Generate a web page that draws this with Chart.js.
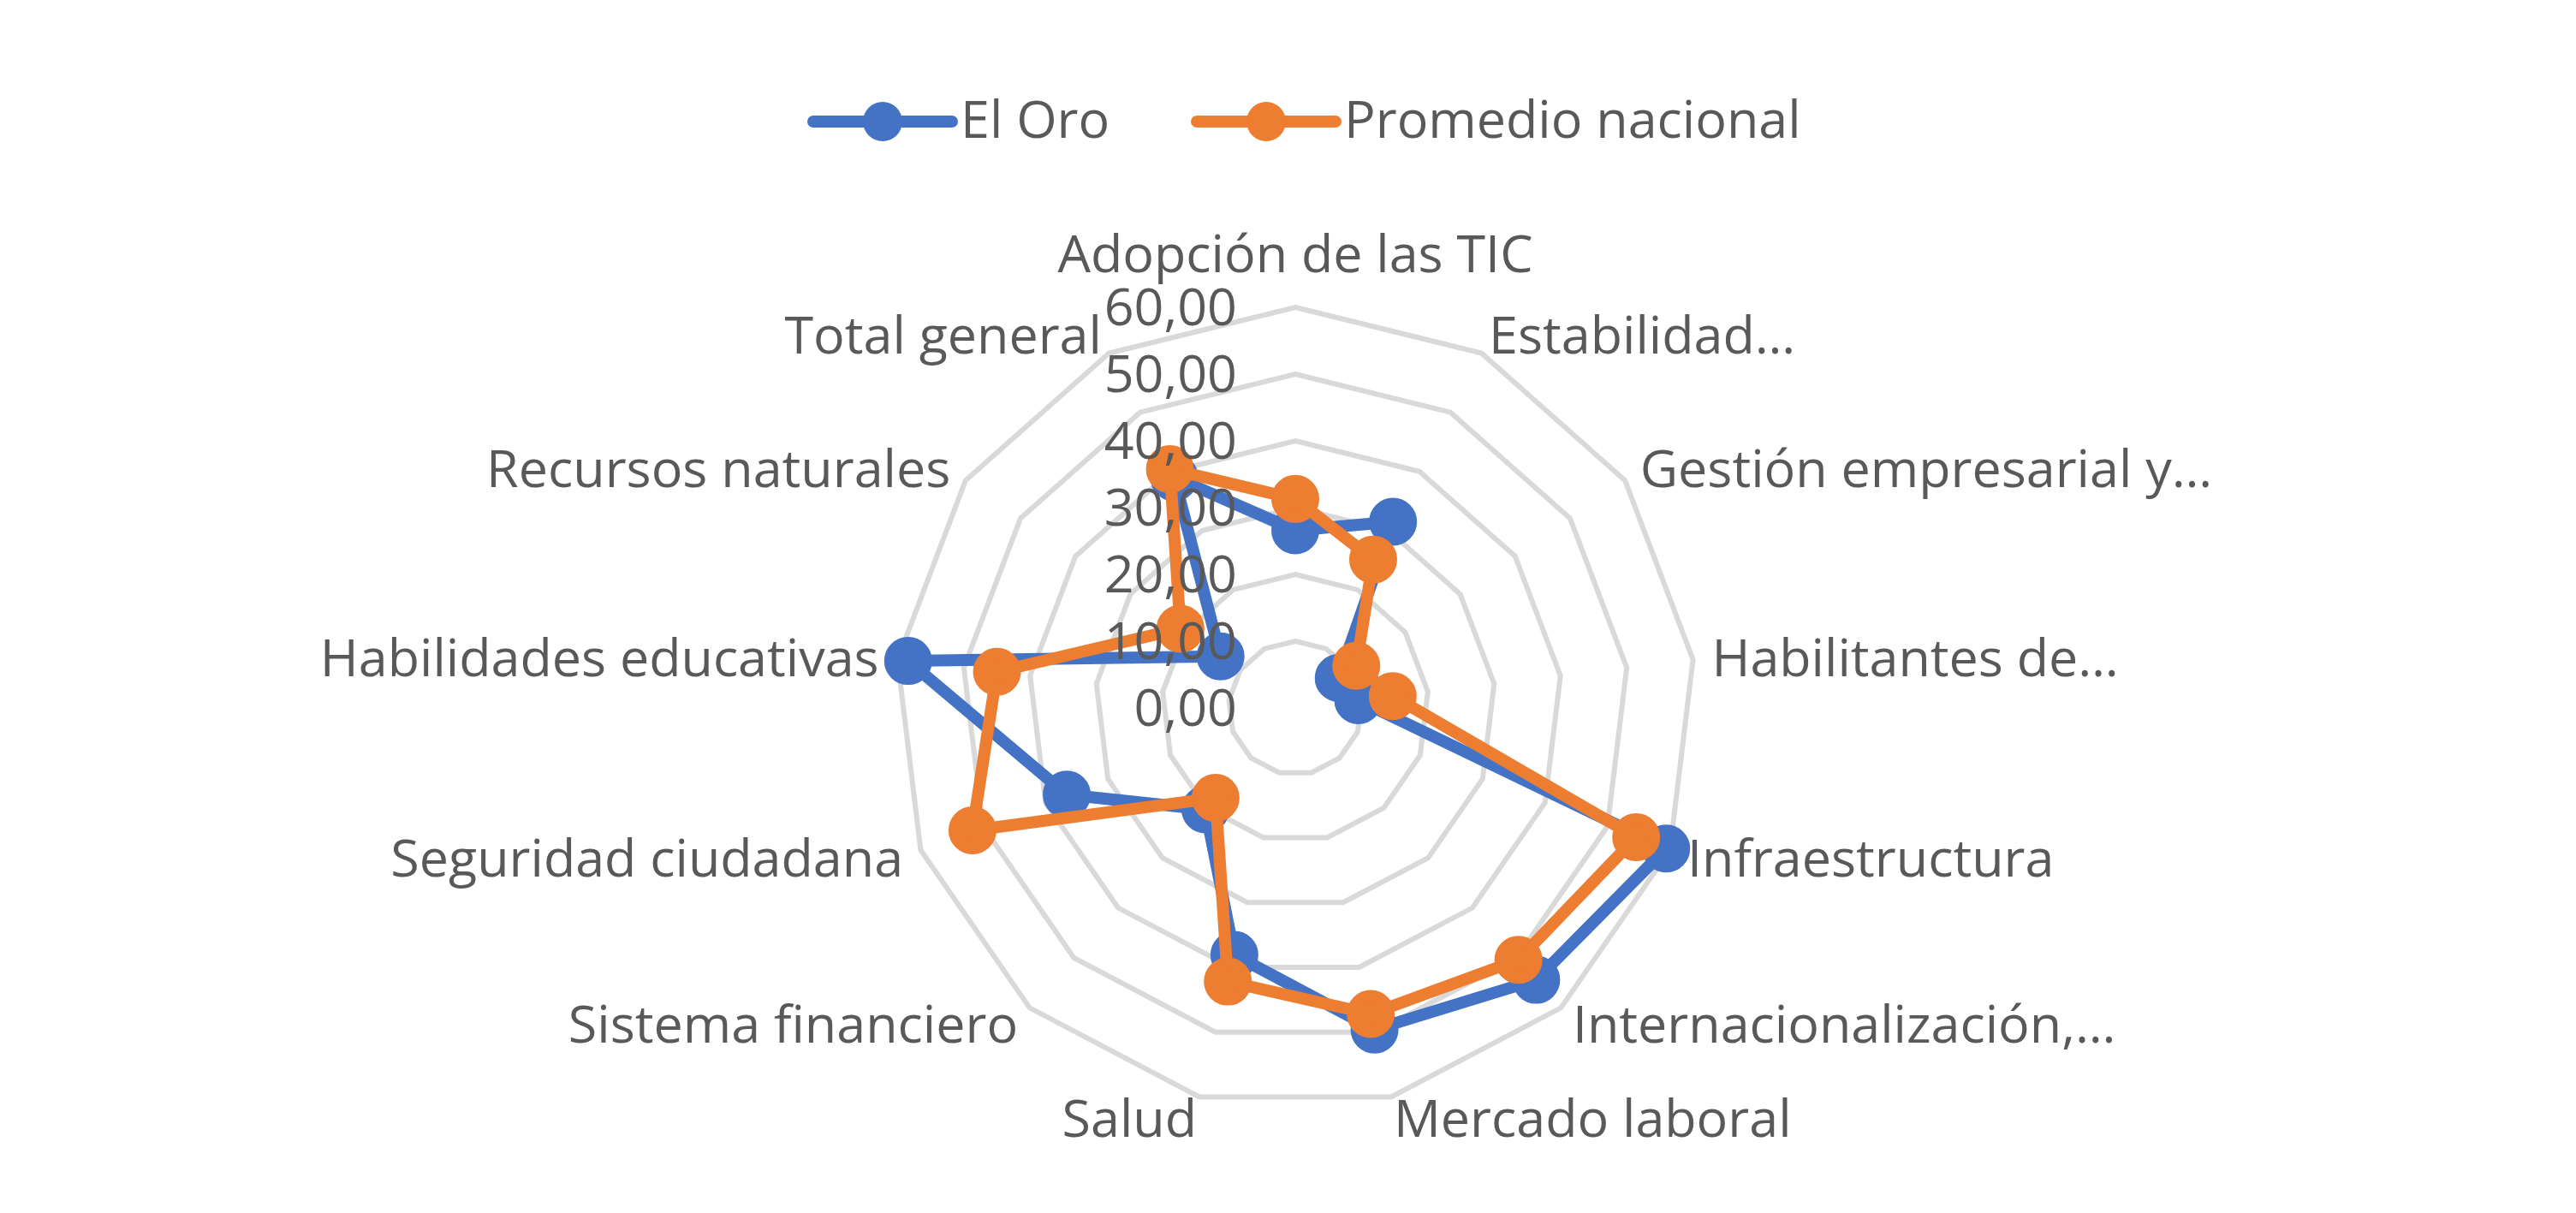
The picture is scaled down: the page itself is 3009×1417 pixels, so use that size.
<!DOCTYPE html>
<html lang="es">
  <head>
    <meta charset="UTF-8" />
    <title>El Oro vs Promedio nacional</title>
    <script src="https://cdn.jsdelivr.net/npm/chart.js"></script>
    <style>
      body {
        margin: 0;
        background: #ffffff;
      }
      #wrap {
        width: 3009px;
        height: 1417px;
      }
    </style>
  </head>
  <body>
    <div id="wrap">
      <canvas id="radar" width="3009" height="1417"></canvas>
    </div>

    <script>
      const categories = [
        "Adopción de las TIC",
        "Estabilidad…",
        "Gestión empresarial y…",
        "Habilitantes de…",
        "Infraestructura",
        "Internacionalización,…",
        "Mercado laboral",
        "Salud",
        "Sistema financiero",
        "Seguridad ciudadana",
        "Habilidades educativas",
        "Recursos naturales",
        "Total general",
      ];
      const elOro = [26.6, 31.5, 7.9, 9.5, 59.4, 54.4, 49.6, 38.1, 20.3, 36.6, 58.4, 13.6, 39.0];
      const promedioNacional = [31.3, 25.1, 11.1, 14.7, 54.6, 50.4, 47.2, 42.2, 18.0, 51.7, 45.0, 20.9, 40.4];
      const tickValues = [0, 10, 20, 30, 40, 50, 60];
      const tickLabels = ["0,00", "10,00", "20,00", "30,00", "40,00", "50,00", "60,00"];

      const BLUE = "#4472C4";
      const ORANGE = "#ED7D31";
      const TEXT = "#595959";
      const FONT = '61px "Open Sans"';

      // excel-like labels: ticks left of the vertical axis, categories outside the rings, legend on top
      const excelDecor = {
        id: "excelDecor",
        afterDatasetsDraw(chart) {
          const ctx = chart.ctx;
          const r = chart.scales.r;
          ctx.save();
          ctx.font = FONT;
          ctx.fillStyle = TEXT;

          // value axis labels
          ctx.textAlign = "right";
          ctx.textBaseline = "middle";
          tickValues.forEach((v, i) => {
            const p = r.getPointPositionForValue(0, v);
            ctx.fillText(tickLabels[i], r.xCenter - 68, p.y + 4);
          });

          // category labels
          const outer = r.drawingArea + 25;
          categories.forEach((name, i) => {
            const p = r.getPointPosition(i, outer);
            const dx = p.x - r.xCenter;
            if (Math.abs(dx) < 1) {
              ctx.textAlign = "center";
              ctx.textBaseline = "alphabetic";
              ctx.fillText(name, p.x, p.y - 16);
            } else {
              ctx.textAlign = dx > 0 ? "left" : "right";
              ctx.textBaseline = "middle";
              ctx.fillText(name, p.x + (dx > 0 ? -3 : 3), p.y + 5);
            }
          });

          // legend
          const items = [
            { label: "El Oro", color: BLUE, x: 950 },
            { label: "Promedio nacional", color: ORANGE, x: 1398 },
          ];
          const ly = 142;
          items.forEach((it) => {
            ctx.strokeStyle = it.color;
            ctx.lineWidth = 14;
            ctx.lineCap = "round";
            ctx.beginPath();
            ctx.moveTo(it.x, ly);
            ctx.lineTo(it.x + 162, ly);
            ctx.stroke();
            ctx.fillStyle = it.color;
            ctx.beginPath();
            ctx.arc(it.x + 81, ly, 23, 0, Math.PI * 2);
            ctx.fill();
            ctx.fillStyle = TEXT;
            ctx.textAlign = "left";
            ctx.textBaseline = "middle";
            ctx.fillText(it.label, it.x + 172, ly + 2);
          });
          ctx.restore();
        },
      };

      const ctx = document.getElementById("radar").getContext("2d");
      const chart = new Chart(ctx, {
        type: "radar",
        data: {
          labels: categories,
          datasets: [
            {
              label: "El Oro",
              data: elOro,
              borderColor: BLUE,
              backgroundColor: BLUE,
              pointBackgroundColor: BLUE,
              pointBorderColor: BLUE,
              borderWidth: 14,
              pointRadius: 21,
              borderJoinStyle: "round",
              fill: false,
              order: 2,
            },
            {
              label: "Promedio nacional",
              data: promedioNacional,
              borderColor: ORANGE,
              backgroundColor: ORANGE,
              pointBackgroundColor: ORANGE,
              pointBorderColor: ORANGE,
              borderWidth: 14,
              pointRadius: 21,
              borderJoinStyle: "round",
              fill: false,
              order: 1,
            },
          ],
        },
        options: {
          responsive: false,
          animation: false,
          devicePixelRatio: 1,
          layout: {
            padding: { left: 1044, right: 1027, top: 359, bottom: 121 },
          },
          plugins: {
            legend: { display: false },
            tooltip: { enabled: false },
          },
          scales: {
            r: {
              min: 0,
              max: 60,
              ticks: { display: false, stepSize: 10 },
              pointLabels: { display: false },
              angleLines: { display: false },
              grid: { color: "#D9D9D9", lineWidth: 6 },
            },
          },
        },
        plugins: [excelDecor],
      });
    </script>
  </body>
</html>
